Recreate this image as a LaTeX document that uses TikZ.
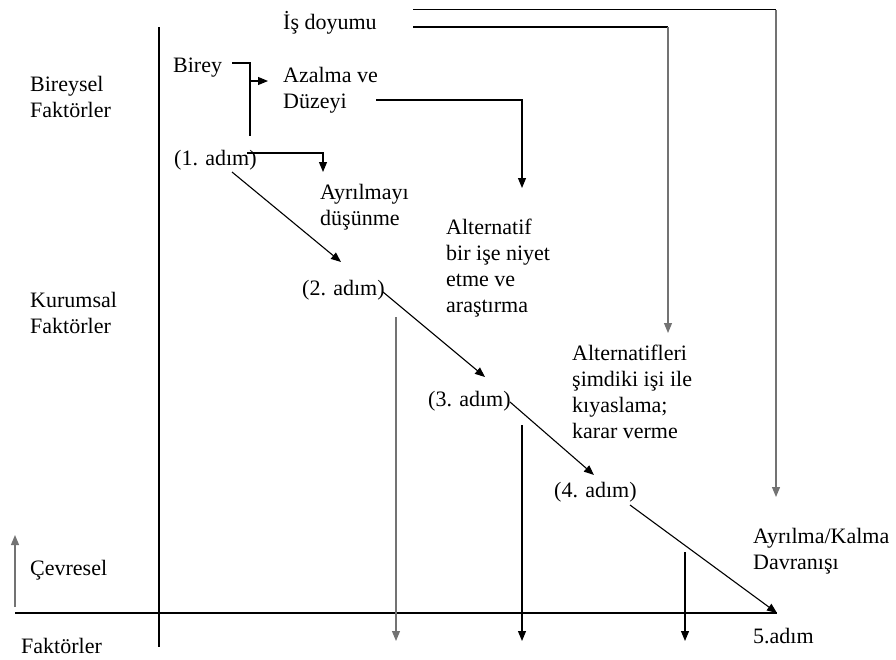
\documentclass[tikz,border=0pt]{standalone}
\usepackage{fontspec}
\setmainfont{Liberation Serif}
\usetikzlibrary{arrows.meta}
\begin{document}
\begin{tikzpicture}[x=1pt,y=-1pt,
  lbl/.style={inner sep=0pt, anchor=base west, font=\fontsize{22}{25.7}\selectfont, align=left},
  ln/.style={line width=1.1pt, black, line cap=butt},
  gln/.style={line width=1.1pt, black!55},
  arr/.style={ln, -{Triangle[length=10pt,width=8pt]}},
  garr/.style={gln, -{Triangle[length=10pt,width=8pt]}},
]
\useasboundingbox (0,0) rectangle (896,659);
% side labels (base anchor = last line)
\node[lbl] (bir) at (30,117) {Bireysel\\Faktörler};
\node[lbl] (kur) at (30,333) {Kurumsal\\Faktörler};
\node[lbl] (cev) at (30,575) {Çevresel};
\node[lbl] (fak) at (21,653) {Faktörler};
% axes
\coordinate (vtop) at (159,27);
\coordinate (vbot) at (159,647);
\coordinate (hleft) at (15,613);
\coordinate (hright) at (777,613);
\draw[ln] (vtop) -- (vbot);
\draw[ln] (hleft) -- (hright);
\coordinate (ua1) at (15,607);
\coordinate (ua2) at (15,535);
\draw[garr] (ua1) -- (ua2);
% text nodes
\node[lbl] (is) at (283,29) {İş doyumu};
\node[lbl] (birey) at (173,72) {Birey};
\node[lbl] (azal) at (283,108) {Azalma ve\\Düzeyi};
\node[lbl] (s1) at (174,165) {(1. adım)};
\node[lbl] (ayr) at (320,225) {Ayrılmayı\\düşünme};
\node[lbl] (s2) at (302,295) {(2. adım)};
\node[lbl] (alt) at (446,312) {Alternatif\\bir işe niyet\\etme ve\\araştırma};
\node[lbl] (s3) at (428,406) {(3. adım)};
\node[lbl] (alts) at (572,438) {Alternatifleri\\şimdiki işi ile\\kıyaslama;\\karar verme};
\node[lbl] (s4) at (554,497) {(4. adım)};
\node[lbl] (dav) at (753,569) {Ayrılma/Kalma\\Davranışı};
\node[lbl] (s5) at (753,643) {5.adım};
% İş doyumu connectors
\coordinate (a1) at (413,9.5);
\coordinate (a1c) at (776,9.5);
\coordinate (a1e) at (776,497);
\draw[ln] (a1) -- (a1c);
\draw[garr] (a1c) -- (a1e);
\coordinate (a2) at (413,27);
\coordinate (a2c) at (668,27);
\coordinate (a2e) at (668,333);
\draw[ln] (a2) -- (a2c);
\draw[garr] (a2c) -- (a2e);
% Azalma connector
\coordinate (b1) at (376,100);
\coordinate (b1c) at (522,100);
\coordinate (b1e) at (522,188);
\draw[arr] (b1) -- (b1c) -- (b1e);
% Birey connector
\coordinate (c1) at (232,63);
\coordinate (c1c) at (250,63);
\coordinate (c1e) at (250,136);
\coordinate (c2) at (250,81);
\coordinate (c2e) at (268,81);
\draw[ln] (c1) -- (c1c) -- (c1e);
\draw[arr] (c2) -- (c2e);
% (1. adım) connector
\coordinate (d1) at (247,153);
\coordinate (d1c) at (323,153);
\coordinate (d1e) at (323,172);
\draw[arr] (d1) -- (d1c) -- (d1e);
% diagonals
\coordinate (e1) at (232,172);
\coordinate (e1e) at (341,262);
\draw[arr] (e1) -- (e1e);
\coordinate (e2) at (383,292);
\coordinate (e2e) at (485,377);
\draw[arr] (e2) -- (e2e);
\coordinate (e3) at (510,402);
\coordinate (e3e) at (594,475);
\draw[arr] (e3) -- (e3e);
\coordinate (e4) at (630,505);
\draw[arr] (e4) -- (hright);
% verticals down
\coordinate (v1) at (396,317);
\coordinate (v1e) at (396,641);
\draw[garr] (v1) -- (v1e);
\coordinate (v2) at (522,425);
\coordinate (v2e) at (522,641);
\draw[arr] (v2) -- (v2e);
\coordinate (v3) at (685,552);
\coordinate (v3e) at (685,641);
\draw[arr] (v3) -- (v3e);
\end{tikzpicture}
\end{document}
